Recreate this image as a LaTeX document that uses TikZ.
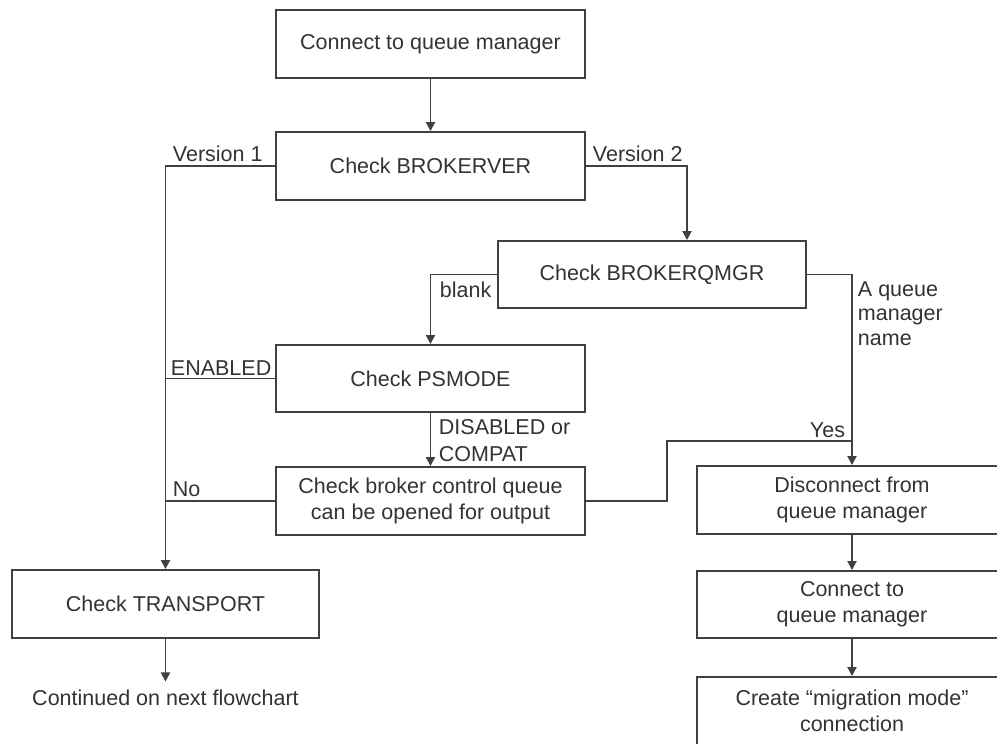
\documentclass[tikz,border=0pt]{standalone}
\usepackage{fontspec}
\setmainfont{Liberation Sans}
\usetikzlibrary{arrows.meta,positioning,calc}
\definecolor{ln}{HTML}{404040}
\definecolor{tx}{HTML}{333333}
\begin{document}
\begin{tikzpicture}[x=1pt,y=-1pt,
  font=\fontsize{21.5}{26}\selectfont, line width=1.9pt, color=ln,
  box/.style={draw=ln, text=tx, rectangle, minimum width=309pt, minimum height=68pt, align=center, inner sep=0pt},
  arr/.style={-{Triangle[length=9pt,width=9pt]}},
  lab/.style={inner sep=0pt, text=tx, align=left}]
\useasboundingbox (0,0) rectangle (997,744);
\fill[white] (0,0) rectangle (997,744);
\clip (0,0) rectangle (997,744);

\node[box] (c1) at (430.5,44) {Connect to queue manager};
\node[box] (bv) at (430.5,166) {Check BROKERVER};
\node[box, minimum width=308pt, minimum height=67pt] (bq) at (652,274.5) {Check BROKERQMGR};
\node[box, minimum height=67pt] (ps) at (430.5,378.5) {Check PSMODE};
\node[box] (cb) at (430.5,501) {Check broker control queue\\can be opened for output};
\node[box, minimum width=307pt] (tr) at (165.5,604) {Check TRANSPORT};
\node[box, minimum width=310pt] (dc) at (852,500) {Disconnect from\\queue manager};
\node[box, minimum width=310pt, minimum height=67pt] (cq) at (852,604.5) {Connect to\\queue manager};
\node[box, minimum width=310pt] (cm) at (852,711) {Create “migration mode”\\connection};
\node[lab, anchor=base] (cont) at (165.5,705) {Continued on next flowchart};

\coordinate (v2) at ([xshift=35pt]bq.north);
\coordinate (yj) at (852,441);

\draw[arr] (c1) -- (bv);
\draw[arr] (bv.west) -| (tr.north);
\draw[arr] (bv.east) -| (v2);
\draw[arr] (bq.west) -| (ps.north);
\draw[arr] (bq.east) -| (dc.north);
\draw (ps.west) -- (ps.west -| tr.north);
\draw[arr] (ps) -- (cb);
\draw (cb.west) -- (cb.west -| tr.north);
\draw (cb.east) -- ++(81,0) |- (yj);
\draw[arr] (dc) -- (cq);
\draw[arr] (cq) -- (cm);
\draw[arr] (tr.south) -- ([yshift=7pt]cont.north);

\node[lab, anchor=base west] (l1) at (172,161) {Version 1};
\node[lab, anchor=base west] (l2) at (592,161) {Version 2};
\node[lab, anchor=base west] (l3) at (439,297) {blank};
\node[lab, anchor=base west, font=\fontsize{21.5}{24.5}\selectfont] (l4) at (857,345) {A queue\\manager\\name};
\node[lab, anchor=base west] (l5) at (170,375) {ENABLED};
\node[lab, anchor=base west, font=\fontsize{21.5}{27}\selectfont] (l6) at (438,461) {DISABLED or\\COMPAT};
\node[lab, anchor=base west] (l7) at (172,496) {No};
\node[lab, anchor=base east] (l8) at (846,437) {Yes};
\end{tikzpicture}
\end{document}
